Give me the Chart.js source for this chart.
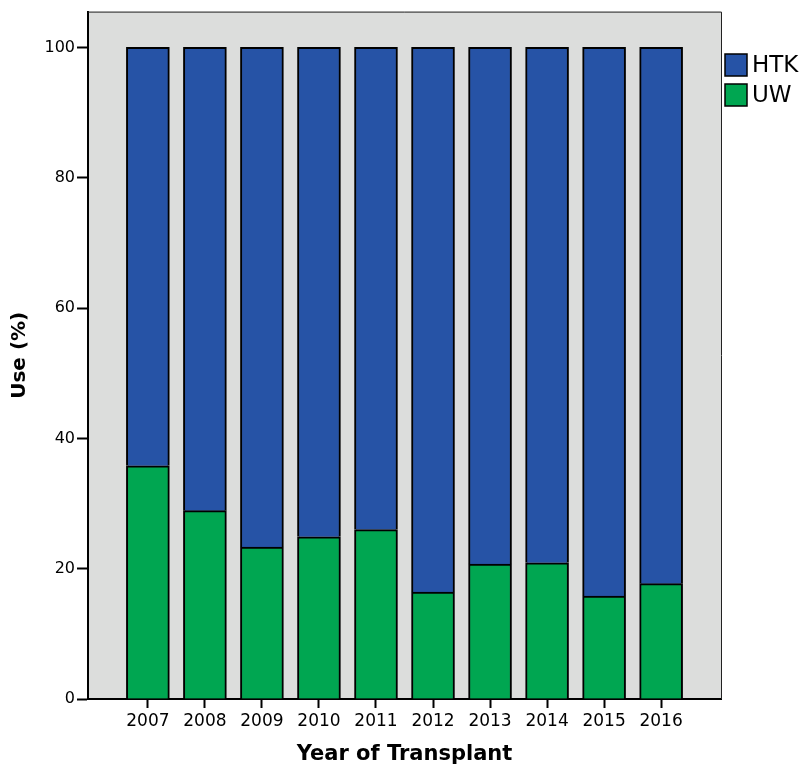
<!DOCTYPE html>
<html>
<head>
<meta charset="utf-8">
<script src="https://cdn.jsdelivr.net/npm/chart.js@4"></script>
<style>
  body { margin: 0; background: #fff; }
  canvas { display: block; }
</style>
</head>
<body>
<canvas id="grafico" width="805" height="769"></canvas>
<script>
// dati
const anni = [2007, 2008, 2009, 2010, 2011, 2012, 2013, 2014, 2015, 2016];
const valoriUW = [35.8, 28.9, 23.3, 24.9, 26.0, 16.4, 20.7, 20.9, 15.8, 17.7];
const valoriHTK = [64.2, 71.1, 76.7, 75.1, 74.0, 83.6, 79.3, 79.1, 84.2, 82.3];
const tickY = [0, 20, 40, 60, 80, 100];

const blu = '#2653A6';
const verde = '#00A651';
const grigio = '#DCDDDC';

// sfondo grigio e cornice dell'area del grafico
const sfondoPlugin = {
    id: 'sfondo',
    beforeDraw(chart) {
        const a = chart.chartArea;
        const ctx = chart.ctx;
        ctx.save();
        ctx.fillStyle = grigio;
        ctx.fillRect(a.left, a.top, a.right - a.left, a.bottom - a.top);
        ctx.restore();
    },
    afterDraw(chart) {
        const a = chart.chartArea;
        const ctx = chart.ctx;
        ctx.save();
        ctx.strokeStyle = '#222';
        ctx.lineWidth = 1;
        ctx.beginPath();
        ctx.moveTo(a.left, a.top + 0.5);
        ctx.lineTo(a.right + 0.5, a.top + 0.5);
        ctx.lineTo(a.right + 0.5, a.bottom);
        ctx.stroke();

        // legenda a destra
        const voci = chart.data.datasets.slice().reverse();
        ctx.font = '23px "DejaVu Sans"';
        ctx.textBaseline = 'middle';
        voci.forEach((ds, i) => {
            const y = 54 + i * 30;
            ctx.fillStyle = ds.backgroundColor;
            ctx.fillRect(725, y, 22, 22);
            ctx.strokeStyle = '#000';
            ctx.lineWidth = 1.5;
            ctx.strokeRect(725, y, 22, 22);
            ctx.fillStyle = '#000';
            ctx.fillText(ds.label, 752, y + 12);
        });
        ctx.restore();
    }
};

const ctx = document.getElementById('grafico').getContext('2d');
const grafico = new Chart(ctx, {
    type: 'bar',
    data: {
        datasets: [{
            label: 'UW',
            data: anni.map((a, i) => ({ x: a, y: valoriUW[i] })),
            backgroundColor: verde,
            borderColor: '#000',
            borderWidth: 2,
            barThickness: 43
        }, {
            label: 'HTK',
            data: anni.map((a, i) => ({ x: a, y: valoriHTK[i] })),
            backgroundColor: blu,
            borderColor: '#000',
            borderWidth: 2,
            barThickness: 43
        }]
    },
    options: {
        responsive: false,
        animation: false,
        layout: { padding: { top: 10, right: 84, left: 0, bottom: 0 } },
        plugins: {
            legend: { display: false },
            tooltip: { enabled: false }
        },
        scales: {
            x: {
                type: 'linear',
                stacked: true,
                offset: false,
                min: 2005.95,
                max: 2017.05,
                afterBuildTicks: (scale) => {
                    scale.ticks = anni.map(a => ({ value: a }));
                },
                afterFit: (scale) => { scale.height = 70; },
                ticks: {
                    stepSize: 1,
                    includeBounds: false,
                    autoSkip: false,
                    maxRotation: 0,
                    padding: 3,
                    color: '#000',
                    font: { family: 'DejaVu Sans', size: 17 },
                    callback: (v) => String(v)
                },
                grid: {
                    display: true,
                    offset: false,
                    drawOnChartArea: false,
                    drawTicks: true,
                    tickLength: 9,
                    tickWidth: 2,
                    tickColor: '#000',
                    color: '#000'
                },
                border: { display: true, color: '#000', width: 2 },
                title: {
                    display: true,
                    text: 'Year of Transplant',
                    color: '#000',
                    font: { family: 'DejaVu Sans', size: 21, weight: 'bold' },
                    padding: 2
                }
            },
            y: {
                stacked: true,
                min: 0,
                max: 105.5,
                afterBuildTicks: (scale) => {
                    scale.ticks = tickY.map(v => ({ value: v }));
                },
                afterFit: (scale) => { scale.width = 88; },
                ticks: {
                    stepSize: 20,
                    includeBounds: false,
                    padding: 2,
                    color: '#000',
                    font: { family: 'DejaVu Sans', size: 16 }
                },
                grid: {
                    display: true,
                    drawOnChartArea: false,
                    tickLength: 11,
                    tickWidth: 2,
                    tickColor: '#000'
                },
                border: { display: true, color: '#000', width: 2 },
                title: {
                    display: true,
                    text: 'Use (%)',
                    color: '#000',
                    font: { family: 'DejaVu Sans', size: 20, weight: 'bold' },
                    padding: 8
                }
            }
        }
    },
    plugins: [sfondoPlugin]
});
</script>
</body>
</html>
